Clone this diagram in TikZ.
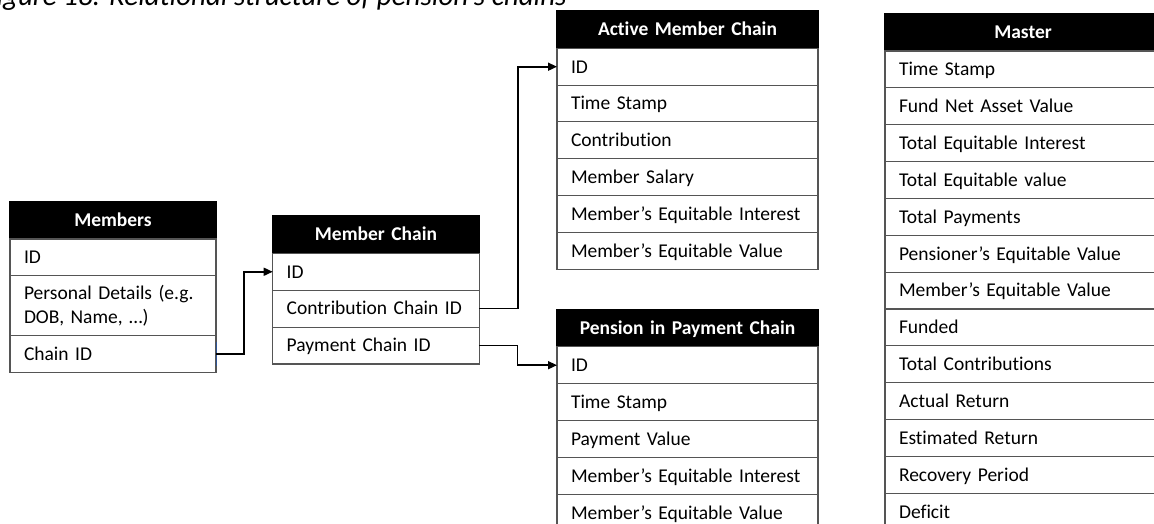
\documentclass[tikz,border=0pt]{standalone}
\usepackage{fontspec}
\setmainfont{Carlito}[Ligatures=NoCommon]
\usetikzlibrary{arrows.meta}
\definecolor{rule}{RGB}{85,85,85}
\definecolor{stub}{RGB}{47,85,151}
\newcommand{\cellfont}{\fontsize{19.5}{23.5}\selectfont}

\begin{document}
\begin{tikzpicture}[x=1pt,y=-1pt,
  cell/.style={rectangle, draw=rule, line width=1.1pt, anchor=north west, outer sep=0pt,
    inner xsep=14pt, inner ysep=0pt, align=left, font=\cellfont},
  oneline/.style={text height=12.6pt, text depth=0pt},
  hdr/.style={cell, oneline, fill=black, draw=black, text=white, align=center,
    font=\cellfont\bfseries},
  conn/.style={line width=1.6pt, draw=black, -{Triangle[length=9pt,width=8pt]}},
]
\useasboundingbox (0,0) rectangle (1154,523);
\clip (0,0) rectangle (1154,523);

% caption, running off the top and left edges
\node[anchor=base west, inner sep=0pt, font=\fontsize{29}{30}\selectfont\itshape] (caption)
  at (-17,5.5) {Figure 18: Relational structure of pension’s chains};

% Members
\node[hdr, text width=178pt, minimum height=37.3pt] (memH) at (10,201.7) {Members};
\node[cell, oneline, text width=178pt, minimum height=36.7pt] (mem1) at (memH.south west) {ID};
\node[cell, text width=178pt, minimum height=60pt] (mem2) at (mem1.south west) {Personal Details (e.g.\\DOB, Name, …)};
\node[cell, oneline, text width=178pt, minimum height=37pt] (mem3) at (mem2.south west) {Chain ID};

% Member Chain
\node[hdr, text width=178.6pt, minimum height=37.3pt] (mcH) at (272.7,216) {Member Chain};
\foreach \t [count=\i] in {ID,Contribution Chain ID,Payment Chain ID}
  \node[cell, oneline, text width=178.6pt, minimum height=36.9pt] (mc\i) at (272.7,{253.3+(\i-1)*36.9}) {\t};

% Active Member Chain
\node[hdr, text width=233pt, minimum height=37.3pt] (actH) at (557,11) {Active Member Chain};
\foreach \t [count=\i] in {ID,Time Stamp,Contribution,Member Salary,Member’s Equitable Interest,Member’s Equitable Value}
  \node[cell, oneline, text width=233pt, minimum height=36.8pt] (act\i) at (557,{48.3+(\i-1)*36.8}) {\t};

% Pension in Payment Chain
\node[hdr, text width=233pt, minimum height=37.4pt] (penH) at (557,309.3) {Pension in Payment Chain};
\foreach \t [count=\i] in {ID,Time Stamp,Payment Value,Member’s Equitable Interest,Member’s Equitable Value}
  \node[cell, oneline, text width=233pt, minimum height=37pt] (pen\i) at (557,{346.7+(\i-1)*37}) {\t};

% Master
\node[hdr, text width=248pt, minimum height=37.7pt] (masH) at (885,13.3) {Master};
\foreach \t [count=\i] in {Time Stamp,Fund Net Asset Value,Total Equitable Interest,Total Equitable value,Total Payments,Pensioner’s Equitable Value,Member’s Equitable Value,Funded,Total Contributions,Actual Return,Estimated Return,Recovery Period,Deficit}
  \node[cell, oneline, text width=248pt, minimum height=36.86pt] (mas\i) at (885,{51+(\i-1)*36.86}) {\t};

% connectors
\draw[stub, line width=1pt] ([yshift=12pt]mem3.east) -- ([yshift=-12pt]mem3.east);
\draw[conn] (mem3.east) -- ++(28,0) |- (mc1.west);
\draw[conn] (mc2.east) -- ++(38.7,0) |- (act1.west);
\draw[conn] (mc3.east) -- ++(38,0) |- (pen1.west);
\end{tikzpicture}
\end{document}
